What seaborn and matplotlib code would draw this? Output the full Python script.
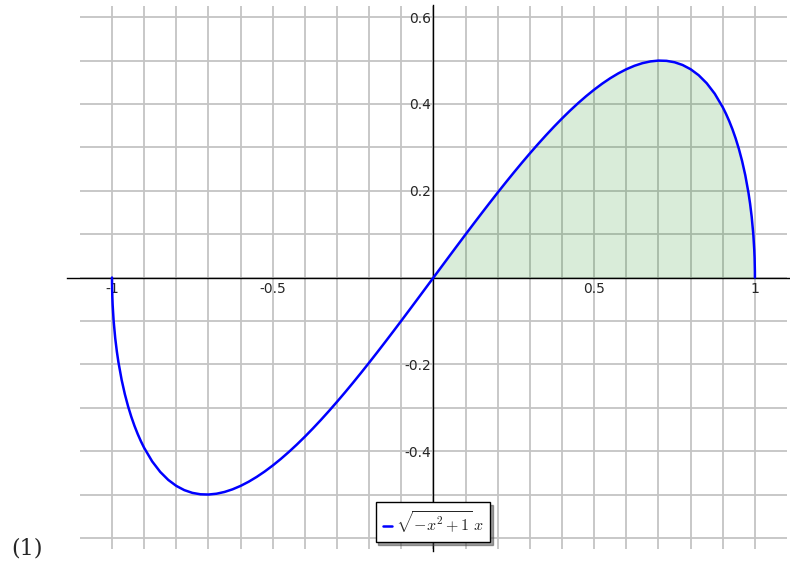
import numpy as np
import matplotlib
matplotlib.use("Agg")
import matplotlib.pyplot as plt
import seaborn as sns
from matplotlib.ticker import FixedLocator, NullFormatter

# values, left half (x < 0) and right half (x >= 0)
x_left = [-1.0, -0.9999, -0.999, -0.998, -0.995, -0.99, -0.985, -0.98, -0.97, -0.96,
          -0.95, -0.94, -0.93, -0.92, -0.91, -0.9, -0.875, -0.85, -0.825, -0.8,
          -0.775, -0.75, -0.725, -0.7, -0.675, -0.65, -0.625, -0.6, -0.575, -0.55,
          -0.525, -0.5, -0.475, -0.45, -0.425, -0.4, -0.375, -0.35, -0.325, -0.3,
          -0.275, -0.25, -0.225, -0.2, -0.175, -0.15, -0.125, -0.1, -0.075, -0.05,
          -0.025]
y_left = [0.0, -0.01414, -0.04467, -0.06309, -0.09938, -0.13966, -0.16997, -0.19502, -0.23581, -0.26880,
          -0.29664, -0.32070, -0.34183, -0.36056, -0.37729, -0.39230, -0.42361, -0.44777, -0.46623, -0.48,
          -0.48977, -0.49608, -0.49934, -0.49990, -0.49803, -0.49396, -0.48789, -0.48, -0.47044, -0.45934,
          -0.44683, -0.43301, -0.41799, -0.40186, -0.38471, -0.36661, -0.34763, -0.32786, -0.30736, -0.28618,
          -0.26440, -0.24206, -0.21923, -0.19596, -0.17230, -0.14830, -0.12402, -0.09950, -0.07479, -0.04994,
          -0.02499]
x_right = [0.0, 0.025, 0.05, 0.075, 0.1, 0.125, 0.15, 0.175, 0.2, 0.225,
           0.25, 0.275, 0.3, 0.325, 0.35, 0.375, 0.4, 0.425, 0.45, 0.475,
           0.5, 0.525, 0.55, 0.575, 0.6, 0.625, 0.65, 0.675, 0.7, 0.725,
           0.75, 0.775, 0.8, 0.825, 0.85, 0.875, 0.9, 0.91, 0.92, 0.93,
           0.94, 0.95, 0.96, 0.97, 0.98, 0.985, 0.99, 0.995, 0.998, 0.999,
           0.9999, 1.0]
y_right = [0.0, 0.02499, 0.04994, 0.07479, 0.09950, 0.12402, 0.14830, 0.17230, 0.19596, 0.21923,
           0.24206, 0.26440, 0.28618, 0.30736, 0.32786, 0.34763, 0.36661, 0.38471, 0.40186, 0.41799,
           0.43301, 0.44683, 0.45934, 0.47044, 0.48, 0.48789, 0.49396, 0.49803, 0.49990, 0.49934,
           0.49608, 0.48977, 0.48, 0.46623, 0.44777, 0.42361, 0.39230, 0.37729, 0.36056, 0.34183,
           0.32070, 0.29664, 0.26880, 0.23581, 0.19502, 0.16997, 0.13966, 0.09938, 0.06309, 0.04467,
           0.01414, 0.0]
x_major = [-1, -0.5, 0.5, 1]
x_labels = ["-1", "-0.5", "0.5", "1"]
y_major = [-0.6, -0.4, -0.2, 0.2, 0.4, 0.6]
y_labels = ["-0.6", "-0.4", "-0.2", "0.2", "0.4", "0.6"]
curve_label = r"$\sqrt{-x^{2} + 1}\,x$"
eq_number = "(1)"

sns.set_style("white")
plt.rcParams["mathtext.fontset"] = "cm"
plt.rcParams["font.family"] = ["DejaVu Sans"]

fig = plt.figure(figsize=(7.9, 5.69), dpi=100)
ax = fig.add_axes([67 / 790, 1 - 551 / 569, (789 - 67) / 790, (551 - 5) / 569])

# grid, sage style: vertical lines over the data range, horizontal ones over the x range
ax.vlines(np.round(np.arange(-1.0, 1.01, 0.1), 2), -0.625, 0.625, colors="#c4c4c4", lw=1.3, zorder=0)
ax.hlines(np.round(np.arange(-0.6, 0.61, 0.1), 2), -1.1, 1.1, colors="#c4c4c4", lw=1.3, zorder=0)

# shaded area on the positive side
ax.fill_between(x_right, 0, y_right, color="green", alpha=0.15, lw=0, zorder=1)

sns.lineplot(x=x_left + x_right, y=y_left + y_right, color="blue", lw=1.8, sort=False,
             ax=ax, label=curve_label, zorder=3)

ax.set_xlim(-1.140, 1.106)
ax.set_ylim(-0.630, 0.628)

for side in ["top", "right"]:
    ax.spines[side].set_visible(False)
ax.spines["left"].set_position(("data", 0))
ax.spines["bottom"].set_position(("data", 0))
for side in ["left", "bottom"]:
    ax.spines[side].set_color("black")
    ax.spines[side].set_linewidth(1.0)
    ax.spines[side].set_zorder(2)

ax.xaxis.set_major_locator(FixedLocator(x_major))
ax.set_xticklabels(x_labels)
ax.yaxis.set_major_locator(FixedLocator(y_major))
ax.set_yticklabels(y_labels)
ax.xaxis.set_minor_locator(FixedLocator(np.round(np.arange(-1.1, 1.11, 0.1), 2)))
ax.yaxis.set_minor_locator(FixedLocator(np.round(np.arange(-0.6, 0.61, 0.05), 2)))
ax.xaxis.set_minor_formatter(NullFormatter())
ax.yaxis.set_minor_formatter(NullFormatter())
ax.tick_params(which="major", direction="in", length=5, width=1, labelsize=10, pad=3, color="black")
ax.tick_params(which="minor", direction="in", length=2.5, width=0.8, color="black")
ax.tick_params(axis="y", pad=2)

# legend centred under the y axis (x = 0), not under the axes box
leg = ax.legend(loc="lower center", bbox_to_anchor=(0.507, 0.01), fontsize=11.5,
                frameon=True, fancybox=False, shadow={"ox": 2, "oy": -2, "color": "#444444"},
                handlelength=0.6, handletextpad=0.2, borderpad=0.45, borderaxespad=0.2)
leg.get_frame().set_edgecolor("black")
leg.get_frame().set_linewidth(1.0)
leg.set_zorder(5)

fig.text(27 / 790, 1 - 549 / 569, eq_number, fontsize=16, family="DejaVu Serif",
         ha="center", va="center")

fig.savefig("out.png", dpi=100)
